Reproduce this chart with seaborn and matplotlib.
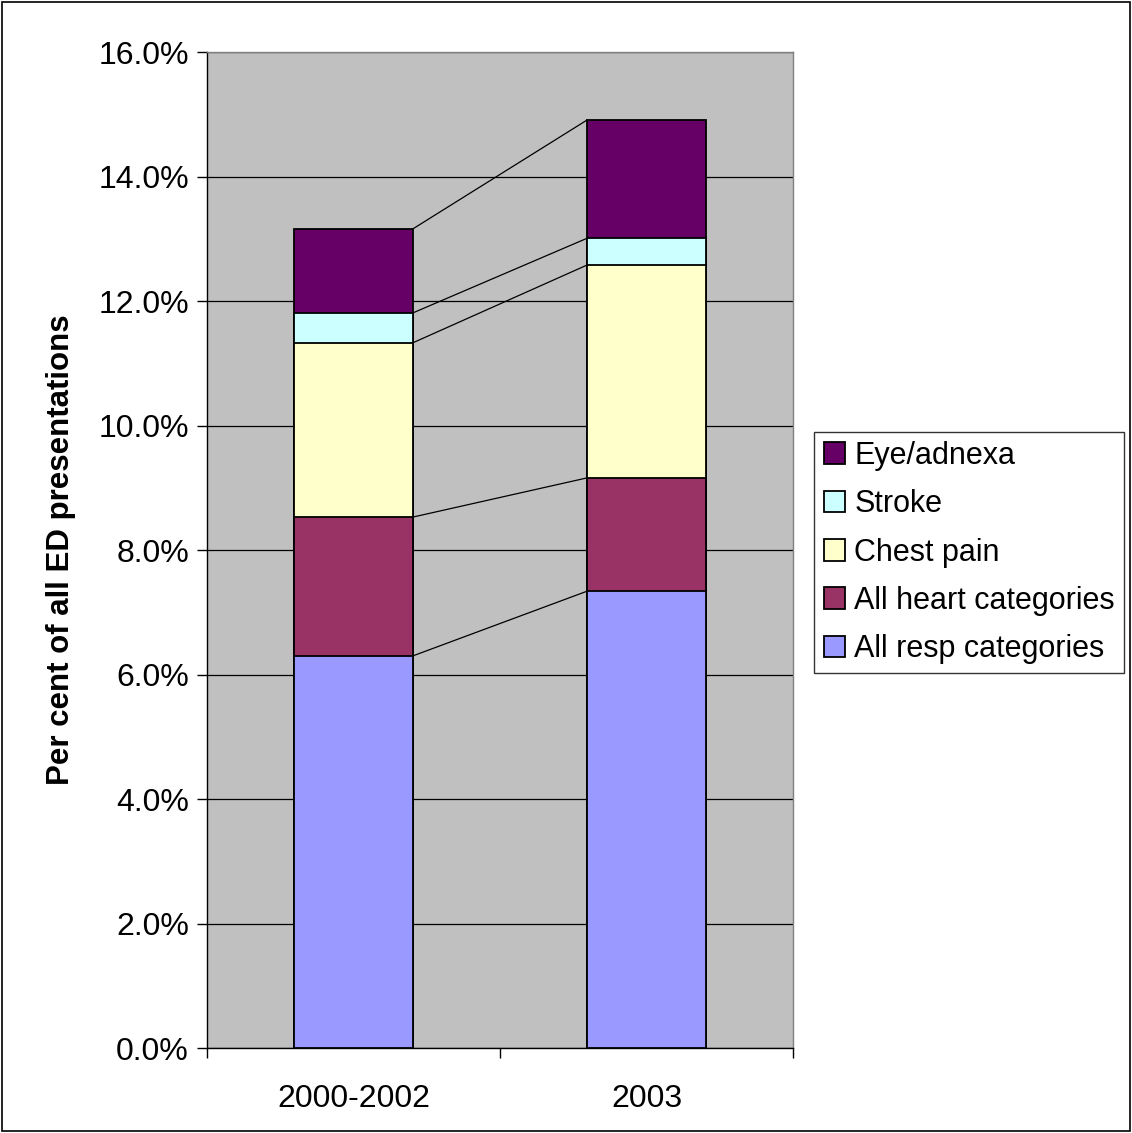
import numpy as np
import pandas as pd
import matplotlib
matplotlib.use("Agg")
import matplotlib.pyplot as plt
import seaborn as sns
from matplotlib.patches import Patch, Rectangle
from matplotlib.ticker import FuncFormatter, MultipleLocator

categories = ["2000-2002", "2003"]
resp = [6.30, 7.34]
heart = [2.23, 1.82]
chest = [2.80, 3.42]
stroke = [0.48, 0.43]
eye = [1.35, 1.90]

series_names = ["All resp categories", "All heart categories", "Chest pain", "Stroke", "Eye/adnexa"]
series_vals = [resp, heart, chest, stroke, eye]
colors = ["#9999FF", "#993366", "#FFFFCC", "#CCFFFF", "#660066"]

sns.set_theme(style="white")
plt.rcParams["font.family"] = ["Liberation Sans", "DejaVu Sans"]
plt.rcParams["text.color"] = "black"
plt.rcParams["axes.labelcolor"] = "black"
plt.rcParams["xtick.color"] = "black"
plt.rcParams["ytick.color"] = "black"

fig = plt.figure(figsize=(11.32, 11.33), dpi=100)
ax = fig.add_axes([0.1829, 0.075, 0.5176, 0.879])
ax.set_facecolor("#C0C0C0")

cum = np.cumsum(np.array(series_vals), axis=0)
bar_w = 0.405
for i in range(len(series_names) - 1, -1, -1):
    df = pd.DataFrame({"cat": categories, "val": cum[i]})
    sns.barplot(data=df, x="cat", y="val", color=colors[i], width=bar_w,
                edgecolor="black", linewidth=1.3, saturation=1, ax=ax, zorder=3)

for i in range(len(series_names)):
    ax.plot([0 + bar_w / 2, 1 - bar_w / 2], [cum[i][0], cum[i][1]],
            color="black", linewidth=0.9, zorder=4)

ax.set_xlim(-0.5, 1.5)
ax.set_ylim(0, 16)
ax.yaxis.set_major_locator(MultipleLocator(2))
ax.yaxis.set_major_formatter(FuncFormatter(lambda v, p: f"{v:.1f}%"))
ax.grid(axis="y", color="black", linewidth=0.9, zorder=1)
ax.set_axisbelow(True)
ax.set_xlabel("")
ax.set_ylabel("Per cent of all ED presentations", fontsize=22.5, fontweight="bold", labelpad=16)

for s in ["top", "right"]:
    ax.spines[s].set_color("#808080")
    ax.spines[s].set_linewidth(1.0)
for s in ["left", "bottom"]:
    ax.spines[s].set_color("black")
    ax.spines[s].set_linewidth(1.0)

ax.tick_params(axis="y", which="both", left=True, length=7, width=1, labelsize=23, pad=6)
ax.tick_params(axis="x", which="major", bottom=False, labelsize=23, pad=20)
ax.set_xticks([0, 1])
ax.set_xticklabels(categories)
ax.set_xticks([-0.5, 0.5, 1.5], minor=True)
ax.tick_params(axis="x", which="minor", bottom=True, length=7, width=1)

handles = [Patch(facecolor=colors[i], edgecolor="black", linewidth=1.3, label=series_names[i])
           for i in range(len(series_names) - 1, -1, -1)]
leg = fig.legend(handles=handles, loc="upper left", bbox_to_anchor=(0.7195, 0.619),
                 frameon=True, fancybox=False, fontsize=22, handlelength=0.7, handleheight=0.7,
                 handletextpad=0.3, labelspacing=0.6, borderpad=0.3, borderaxespad=0,
                 edgecolor="black")
leg.get_frame().set_linewidth(1.0)

fig.patches.append(Rectangle((0.002, 0.002), 0.996, 0.996, transform=fig.transFigure,
                             fill=False, edgecolor="black", linewidth=1.2))

fig.savefig("out.png", dpi=100, facecolor="white")
